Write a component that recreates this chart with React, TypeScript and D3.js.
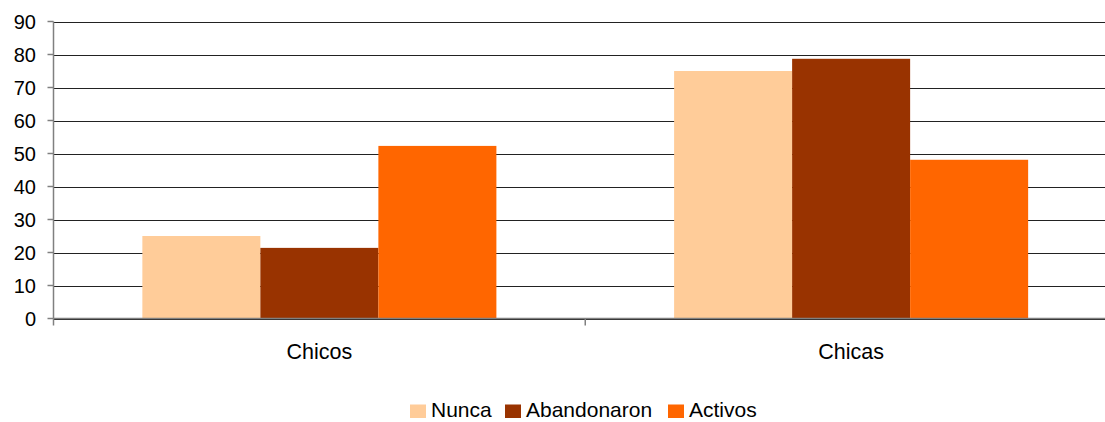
import React from "react";
import * as d3 from "d3";

const categories = ["Chicos", "Chicas"];
const seriesNames = ["Nunca", "Abandonaron", "Activos"];
const nunca = [25, 75];
const abandonaron = [21.4, 78.7];
const activos = [52.3, 48.1];
const yTicks = [0, 10, 20, 30, 40, 50, 60, 70, 80, 90];
const colors = ["#FFCC99", "#993300", "#FF6600"];

export default function App() {
  const W = 1105, H = 422;
  const x0 = 53.5, x1 = 1117;
  const x = d3.scaleBand<string>().domain(categories).range([x0, x1]);
  const y = d3.scaleLinear().domain([0, 90]).range([318.5, 21.5]);
  const xs = d3.scaleBand<string>().domain(seriesNames).range([0, x.bandwidth()]).paddingOuter(0.753).paddingInner(0);
  const data = [nunca, abandonaron, activos];
  const font = "'Liberation Sans', Arial, sans-serif";
  const legendX = [410, 505, 668];
  return (
    <svg width={W} height={H} style={{ position: "absolute", left: 0, top: 0, background: "#fff" }} fontFamily={font}>
      {yTicks.map((t) => (
        <line key={"g" + t} x1={x0} x2={W} y1={Math.round(y(t)) + 0.5} y2={Math.round(y(t)) + 0.5} stroke="#222" strokeWidth={1} />
      ))}
      {categories.map((c, ci) =>
        seriesNames.map((s, si) => {
          const bx = (x(c) as number) + (xs(s) as number);
          return (
            <rect key={c + s} x={bx} width={xs.bandwidth()} y={y(data[si][ci])} height={y(0) - y(data[si][ci])} fill={colors[si]} />
          );
        })
      )}
      <line x1={x0} x2={x0} y1={y(90)} y2={y(0)} stroke="#808080" strokeWidth={1.5} />
      <line x1={x0} x2={W} y1={y(0)} y2={y(0)} stroke="#808080" strokeWidth={1.5} />
      {yTicks.map((t) => (
        <g key={"t" + t}>
          <line x1={x0 - 6} x2={x0} y1={y(t)} y2={y(t)} stroke="#808080" strokeWidth={1.5} />
          <text x={36} y={y(t)} dy="0.35em" textAnchor="end" fontSize={20} fill="#000">{t}</text>
        </g>
      ))}
      {[x0, x0 + x.bandwidth(), x1].map((v, i) => (
        <line key={"bt" + i} x1={v} x2={v} y1={y(0)} y2={y(0) + 7} stroke="#808080" strokeWidth={1.5} />
      ))}
      {categories.map((c) => (
        <text key={"c" + c} x={(x(c) as number) + x.bandwidth() / 2} y={359} textAnchor="middle" fontSize={21.5} fill="#000">{c}</text>
      ))}
      {seriesNames.map((s, i) => (
        <g key={"l" + s}>
          <rect x={legendX[i]} y={404.5} width={16} height={13.5} fill={colors[i]} />
          <text x={legendX[i] + 21} y={417} fontSize={21} fill="#000">{s}</text>
        </g>
      ))}
    </svg>
  );
}
